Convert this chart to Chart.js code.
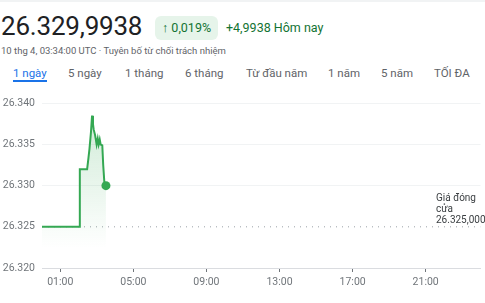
<!DOCTYPE html>
<html>
<head>
<meta charset="utf-8">
<script src="https://cdn.jsdelivr.net/npm/chart.js@4"></script>
<style>
  html, body { margin: 0; padding: 0; background: #fff; }
  body { width: 485px; height: 303px; position: relative; overflow: hidden; font-family: Roboto, Arial, sans-serif; }
  .topline { position: absolute; left: 0; top: 0; width: 485px; height: 2px; background: #f1f3f4; }
  .price { position: absolute; left: 1px; top: 11px; font-size: 26px; color: #202124; letter-spacing: -0.2px; }
  .badge { position: absolute; left: 155px; top: 16px; height: 24px; line-height: 24px; padding: 0 7px; border-radius: 6px; background: #e6f4ea; color: #137333; font-size: 12.5px; }
  .change { position: absolute; left: 226px; top: 20px; color: #137333; font-size: 12.5px; }
  .sub { position: absolute; left: 1px; top: 45px; color: #5f6368; font-size: 9.5px; }
  .tabs { position: absolute; top: 66px; left: 0; font-size: 11.5px; color: #5f6368; }
  .tabs span { position: absolute; white-space: nowrap; }
  .tabs .on { color: #1a73e8; }
  .tabs .on::after { content: ''; position: absolute; left: 0; right: 0; top: 14px; height: 2px; background: #1a73e8; }
  #wrap { position: absolute; left: 0; top: 90px; width: 485px; height: 213px; }
</style>
</head>
<body>
<div class="topline"></div>
<div class="price">26.329,9938</div>
<div class="badge">↑ 0,019%</div>
<div class="change">+4,9938 Hôm nay</div>
<div class="sub">10 thg 4, 03:34:00 UTC · Tuyên bố từ chối trách nhiệm</div>
<div class="tabs">
  <span class="on" style="left:13px">1 ngày</span>
  <span style="left:68px">5 ngày</span>
  <span style="left:125px">1 tháng</span>
  <span style="left:185px">6 tháng</span>
  <span style="left:246px">Từ đầu năm</span>
  <span style="left:328px">1 năm</span>
  <span style="left:381px">5 năm</span>
  <span style="left:434px">TỐI ĐA</span>
</div>
<div id="wrap"><canvas id="chart"></canvas></div>
<script>
// hours since 00:00 UTC
const hours = [0, 2.07, 2.07, 2.47, 2.54, 2.6, 2.68, 2.74, 2.79, 2.83, 2.9, 2.94, 2.99, 3.05, 3.10, 3.16, 3.21, 3.30, 3.35, 3.41, 3.5];
const prices = [26.325, 26.325, 26.332, 26.332, 26.3333, 26.3345, 26.3365, 26.3385, 26.3375, 26.3368, 26.3362, 26.3357, 26.3350, 26.3357, 26.3350, 26.3356, 26.3350, 26.3349, 26.3325, 26.3305, 26.3300];
const prevClose = 26.325;
const xTicks = [1, 5, 9, 13, 17, 21];
const yTicks = [26.320, 26.325, 26.330, 26.335, 26.340];

const green = '#34a853';
const tickColor = '#70757a';

const closeLabel = {
  id: 'closeLabel',
  afterDatasetsDraw(chart) {
    const { ctx, scales: { y } } = chart;
    const py = y.getPixelForValue(prevClose);
    ctx.save();
    ctx.fillStyle = '#3c4043';
    ctx.font = '10px Roboto, Arial, sans-serif';
    ctx.textBaseline = 'alphabetic';
    ctx.fillText('Giá đóng', 436, py - 26);
    ctx.fillText('cửa', 436, py - 15);
    ctx.fillText('26.325,000', 436, py - 4);
    ctx.restore();
  }
};

new Chart(document.getElementById('chart'), {
  type: 'line',
  data: {
    datasets: [
      {
        data: hours.map((h, i) => ({ x: h, y: prices[i] })),
        borderColor: green,
        borderWidth: 2,
        tension: 0,
        pointRadius: hours.map((h, i) => i === hours.length - 1 ? 4.5 : 0),
        pointBackgroundColor: green,
        pointBorderWidth: 0,
        fill: 'start',
        backgroundColor: (ctx) => {
          const area = ctx.chart.chartArea;
          if (!area) return 'rgba(52,168,83,0.1)';
          const g = ctx.chart.ctx.createLinearGradient(0, area.top, 0, area.bottom - 20);
          g.addColorStop(0, 'rgba(52,168,83,0.25)');
          g.addColorStop(1, 'rgba(52,168,83,0)');
          return g;
        }
      },
      {
        data: [{ x: 0, y: prevClose }, { x: 24, y: prevClose }],
        borderColor: '#9aa0a6',
        borderWidth: 1,
        borderDash: [1, 5],
        pointRadius: 0,
        fill: false
      }
    ]
  },
  options: {
    responsive: true,
    maintainAspectRatio: false,
    animation: false,
    layout: { padding: { top: 13, right: 2, left: 0, bottom: 0 } },
    plugins: { legend: { display: false }, tooltip: { enabled: false } },
    scales: {
      x: {
        type: 'linear',
        min: 0,
        max: 24,
        afterBuildTicks: (s) => { s.ticks = xTicks.map(v => ({ value: v })); },
        ticks: {
          color: tickColor,
          font: { family: 'Roboto', size: 10.5 },
          padding: 4,
          maxRotation: 0,
          callback: (v) => String(v).padStart(2, '0') + ':00'
        },
        grid: { drawOnChartArea: false, tickLength: 4, color: '#70757a' },
        border: { color: '#dadce0', width: 1 },
        afterFit: (s) => { s.height = 35; }
      },
      y: {
        min: 26.320,
        max: 26.340,
        afterBuildTicks: (s) => { s.ticks = yTicks.map(v => ({ value: v })); },
        ticks: {
          color: tickColor,
          font: { family: 'Roboto', size: 10.5 },
          padding: 7,
          callback: (v) => v.toFixed(3)
        },
        grid: {
          drawTicks: false,
          color: (c) => (c.tick && c.tick.value > 26.3255) ? '#f1f3f4' : 'rgba(0,0,0,0)'
        },
        border: { display: false },
        afterFit: (s) => { s.width = 42; }
      }
    }
  },
  plugins: [closeLabel]
});
</script>
</body>
</html>
